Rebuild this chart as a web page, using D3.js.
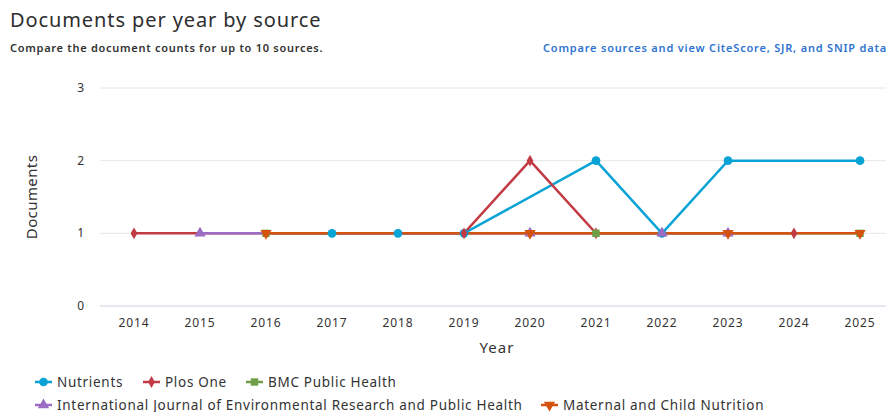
<!DOCTYPE html>
<meta charset="utf-8" />
<style>
  body { margin: 0; background: #fff; font-family: "Noto Sans", "Open Sans", sans-serif; }
  #chart { width: 886px; height: 412px; overflow: hidden; }
</style>
<body>
  <div id="chart"></div>
  <script src="https://cdn.jsdelivr.net/npm/d3@7"></script>
  <script>
    var years = ["2014", "2015", "2016", "2017", "2018", "2019", "2020", "2021", "2022", "2023", "2024", "2025"];
    var yTicks = [0, 1, 2, 3];

    // values per source, null = no documents that year
    var nutrients = [null, null, null, 1, 1, 1, null, 2, 1, 2, null, 2];
    var plosOne = [1, null, null, null, null, 1, 2, 1, null, null, 1, null];
    var bmcPublicHealth = [null, null, 1, null, null, null, null, 1, null, null, null, 1];
    var ijerph = [null, 1, null, null, null, null, 1, null, 1, 1, null, null];
    var maternalChild = [null, null, 1, null, null, null, 1, null, null, 1, null, 1];

    var series = [
      { name: "Nutrients", values: nutrients, color: "#0aa3d6", symbol: "circle" },
      { name: "Plos One", values: plosOne, color: "#c23b44", symbol: "diamond" },
      { name: "BMC Public Health", values: bmcPublicHealth, color: "#6e9e45", symbol: "square" },
      { name: "International Journal of Environmental Research and Public Health", values: ijerph, color: "#9b6cc4", symbol: "triangle" },
      { name: "Maternal and Child Nutrition", values: maternalChild, color: "#d4530f", symbol: "triangledown" }
    ];

    var W = 886, H = 412;
    var svg = d3.select("#chart").append("svg").attr("width", W).attr("height", H);

    // titles
    svg.append("text").attr("x", 10).attr("y", 27)
      .attr("font-size", "20px").attr("letter-spacing", "0.9px").attr("fill", "#2e2e2e")
      .text("Documents per year by source");
    svg.append("text").attr("x", 10).attr("y", 52)
      .attr("font-size", "11px").attr("letter-spacing", "0.72px")
      .attr("font-weight", "600").attr("fill", "#323232")
      .text("Compare the document counts for up to 10 sources.");
    svg.append("text").attr("x", 543).attr("y", 52)
      .attr("font-size", "11px").attr("letter-spacing", "0.8px")
      .attr("font-weight", "600").attr("fill", "#2f74d0")
      .text("Compare sources and view CiteScore, SJR, and SNIP data");

    var x = d3.scaleBand().domain(years).range([101, 893]);
    var y = d3.scaleLinear().domain([0, 3]).range([306, 88]);

    // grid
    svg.append("g").selectAll("line").data(yTicks).enter().append("line")
      .attr("x1", 100).attr("x2", W)
      .attr("y1", function (d) { return y(d); })
      .attr("y2", function (d) { return y(d); })
      .attr("stroke", function (d) { return d === 0 ? "#ccd3e0" : "#e6e6e6"; })
      .attr("stroke-width", 1);

    // y labels
    svg.append("g").selectAll("text").data(yTicks).enter().append("text")
      .attr("x", 84).attr("y", function (d) { return y(d) + 4; })
      .attr("text-anchor", "end").attr("font-size", "12px").attr("fill", "#333")
      .text(function (d) { return d; });

    // x labels
    svg.append("g").selectAll("text").data(years).enter().append("text")
      .attr("x", function (d) { return x(d) + x.bandwidth() / 2; })
      .attr("y", 327)
      .attr("text-anchor", "middle").attr("font-size", "12px").attr("letter-spacing", "0.9px")
      .attr("fill", "#333")
      .text(function (d) { return d; });

    svg.append("text").attr("x", 497).attr("y", 353).attr("text-anchor", "middle")
      .attr("font-size", "15px").attr("letter-spacing", "1px").attr("fill", "#333").text("Year");
    svg.append("text").attr("transform", "translate(37,197) rotate(-90)")
      .attr("text-anchor", "middle").attr("font-size", "15px").attr("letter-spacing", "0.4px")
      .attr("fill", "#333").text("Documents");

    function cx(i) { return x(years[i]) + x.bandwidth() / 2; }

    var symbolTypes = {
      circle: d3.symbolCircle, diamond: d3.symbolDiamond, square: d3.symbolSquare,
      triangle: d3.symbolTriangle, triangledown: d3.symbolTriangle
    };
    function symbolPath(s) {
      var size = s === "diamond" ? 40 : s === "circle" ? 60 : 55;
      return d3.symbol().type(symbolTypes[s]).size(size)();
    }

    var line = d3.line()
      .x(function (d) { return cx(d.i); })
      .y(function (d) { return y(d.v); });

    series.forEach(function (s) {
      s.points = s.values.map(function (v, i) { return { v: v, i: i }; })
        .filter(function (d) { return d.v !== null; });
    });

    var plot = svg.append("g");
    series.forEach(function (s) {
      plot.append("path").attr("d", line(s.points))
        .attr("fill", "none").attr("stroke", s.color).attr("stroke-width", 2.5);
    });
    series.forEach(function (s) {
      plot.append("g").selectAll("path").data(s.points).enter().append("path")
        .attr("d", symbolPath(s.symbol))
        .attr("transform", function (d) {
          return "translate(" + cx(d.i) + "," + y(d.v) + ")" + (s.symbol === "triangledown" ? " rotate(180)" : "");
        })
        .attr("fill", s.color);
    });

    // legend
    var legendPos = [
      { x: 35, y: 382 }, { x: 143, y: 382 }, { x: 246, y: 382 },
      { x: 35, y: 405 }, { x: 541, y: 405 }
    ];
    var legend = svg.append("g").selectAll("g").data(series).enter().append("g")
      .attr("transform", function (d, i) { return "translate(" + legendPos[i].x + "," + legendPos[i].y + ")"; });
    legend.append("line").attr("x1", 0).attr("x2", 17)
      .attr("stroke", function (d) { return d.color; }).attr("stroke-width", 2.5);
    legend.append("path")
      .attr("d", function (d) { return symbolPath(d.symbol); })
      .attr("transform", function (d) { return "translate(8.5,0)" + (d.symbol === "triangledown" ? " rotate(180)" : ""); })
      .attr("fill", function (d) { return d.color; });
    legend.append("text").attr("x", 22).attr("y", 4.5)
      .attr("font-size", "13.5px").attr("letter-spacing", "0.7px").attr("fill", "#333")
      .text(function (d) { return d.name; });
  </script>
</body>
